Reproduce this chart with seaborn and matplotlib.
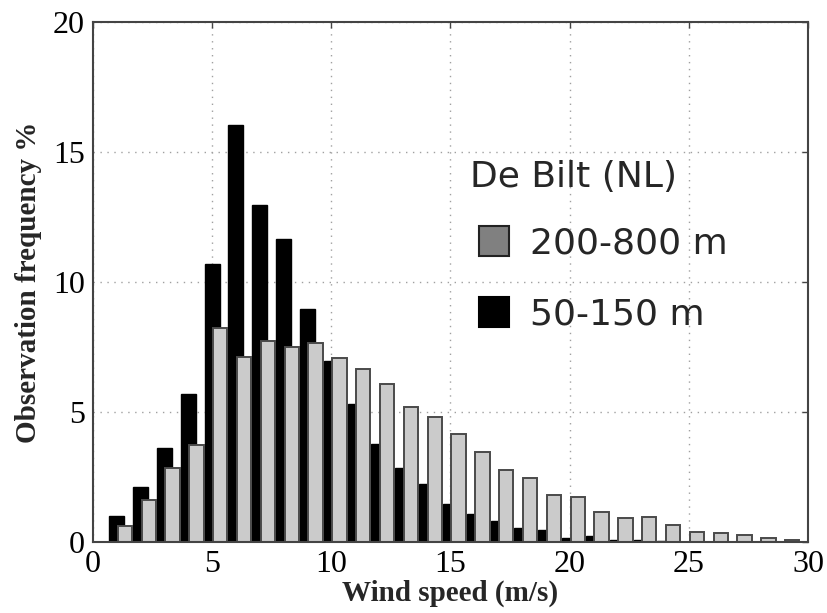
import matplotlib
matplotlib.use("Agg")
import matplotlib.pyplot as plt
from matplotlib.lines import Line2D
import numpy as np
import seaborn as sns

# -----------------------------
# Data
# -----------------------------
wind_speed = np.arange(1, 30)

freq_50_150 = [1.0, 2.1, 3.63, 5.7, 10.7, 16.05, 12.95, 11.65, 8.95, 6.95,
               5.3, 3.77, 2.85, 2.25, 1.45, 1.06, 0.8, 0.53, 0.46, 0.17,
               0.22, 0.06, 0.08, 0.04, 0.0, 0.0, 0.0, 0.0, 0.0]

freq_200_800 = [0.6, 1.6, 2.83, 3.73, 8.22, 7.13, 7.74, 7.51, 7.64, 7.07,
                6.65, 6.06, 5.2, 4.8, 4.14, 3.47, 2.78, 2.47, 1.79, 1.73,
                1.17, 0.91, 0.96, 0.65, 0.38, 0.33, 0.28, 0.16, 0.08]

x_ticks = [0, 5, 10, 15, 20, 25, 30]
y_ticks = [0, 5, 10, 15, 20]

station = "De Bilt (NL)"
label_high = "200-800 m"
label_low = "50-150 m"

# -----------------------------
# Style
# -----------------------------
sns.set_style("white")
plt.rcParams["font.family"] = ["Liberation Serif", "DejaVu Serif"]

fig = plt.figure(figsize=(8.28, 6.13), dpi=100)
ax = fig.add_axes([0.1123, 0.1158, 0.8635, 0.8483])

# black bars behind, light grey bars shifted right on top
sns.barplot(
    x=wind_speed, y=freq_50_150, native_scale=True, width=0.63,
    color="black", saturation=1, edgecolor="black", linewidth=1.0, ax=ax
)
sns.barplot(
    x=wind_speed + 0.34, y=freq_200_800, native_scale=True, width=0.6,
    color="#cbcbcb", saturation=1, edgecolor="#4a4a4a", linewidth=1.4, ax=ax
)

ax.set_xlim(0, 30)
ax.set_ylim(0, 20)
ax.set_xticks(x_ticks)
ax.set_yticks(y_ticks)
ax.set_xticklabels([str(t) for t in x_ticks])
ax.set_yticklabels([str(t) for t in y_ticks])

ax.grid(True, color="#a0a0a0", linestyle=(0, (1, 4)), linewidth=1.0)
ax.set_axisbelow(True)

for side in ["left", "right", "top", "bottom"]:
    ax.spines[side].set_visible(True)
    ax.spines[side].set_color("#444444")
    ax.spines[side].set_linewidth(1.5)

ax.tick_params(
    axis="both", direction="in", length=4, width=1,
    top=True, right=True, labelsize=23, colors="#444444",
    labelcolor="black"
)
ax.tick_params(axis="x", pad=6)
ax.tick_params(axis="y", pad=6)

ax.set_xlabel("Wind speed (m/s)", fontsize=21, fontweight="bold", labelpad=0)
ax.set_ylabel("Observation frequency %", fontsize=21, fontweight="bold", labelpad=8)

# -----------------------------
# Legend
# -----------------------------
ax.text(
    0.527, 0.702, station, transform=ax.transAxes,
    fontsize=26, family="DejaVu Sans", va="center", ha="left"
)

handles = [
    Line2D([], [], marker="s", linestyle="", markersize=22,
           markerfacecolor="#808080", markeredgecolor="#222222",
           markeredgewidth=1.5),
    Line2D([], [], marker="s", linestyle="", markersize=22,
           markerfacecolor="black", markeredgecolor="black",
           markeredgewidth=1.5),
]
ax.legend(
    handles, [label_high, label_low],
    loc="upper left", bbox_to_anchor=(0.527, 0.607),
    frameon=False, borderpad=0, borderaxespad=0,
    handlelength=1.36, handletextpad=0.3, labelspacing=1.02,
    prop={"family": "DejaVu Sans", "size": 26}
)

plt.savefig("out.png", dpi=100)
plt.close()
